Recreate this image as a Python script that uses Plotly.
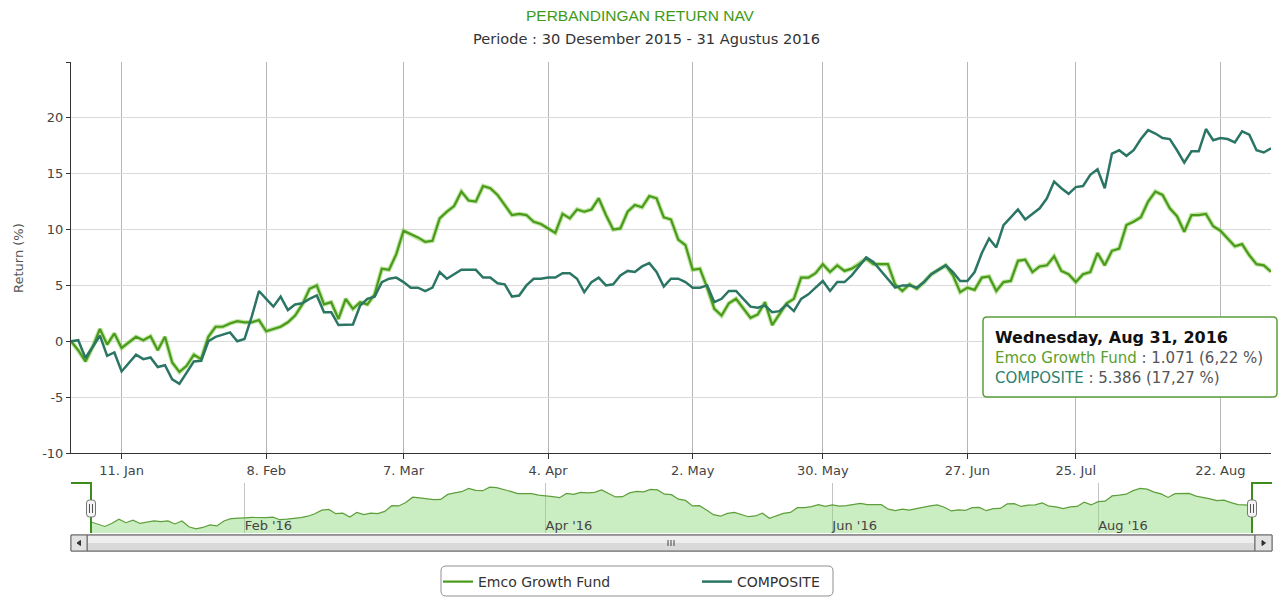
import pandas as pd
import plotly.graph_objects as go

# ---------------- data ----------------
TITLE = "PERBANDINGAN RETURN NAV"
SUBTITLE = "Periode : 30 Desember 2015 - 31 Agustus 2016"
Y_TITLE = "Return (%)"
SERIES_NAMES = ["Emco Growth Fund", "COMPOSITE"]

START, END = "2015-12-30", "2016-08-31"
HOLIDAYS = ["2016-01-01", "2016-02-08", "2016-05-05", "2016-05-06",
            "2016-07-04", "2016-07-05", "2016-07-06", "2016-07-07", "2016-07-08"]
DATES = [d for d in pd.bdate_range(START, END) if d.strftime("%Y-%m-%d") not in HOLIDAYS]

EMCO = [
    0.0, -0.8, -1.8, -0.5, 1.1, -0.3, 0.7, -0.6, -0.1, 0.4,
    0.1, 0.45, -0.8, 0.4, -1.9, -2.75, -2.2, -1.2, -1.6, 0.4,
    1.3, 1.3, 1.6, 1.8, 1.7, 1.7, 1.9, 0.9, 1.1, 1.3,
    1.7, 2.3, 3.3, 4.7, 5.0, 3.3, 3.5, 2.0, 3.8, 2.9,
    3.5, 3.3, 4.2, 6.5, 6.4, 7.8, 9.9, 9.6, 9.3, 8.9,
    9.0, 11.0, 11.6, 12.1, 13.4, 12.6, 12.5, 13.9, 13.7, 13.1,
    12.2, 11.3, 11.4, 11.3, 10.7, 10.5, 10.1, 9.7, 11.4, 11.0,
    11.8, 11.6, 11.8, 12.8, 11.3, 10.0, 10.1, 11.6, 12.2, 12.0,
    13.0, 12.8, 11.1, 10.9, 9.1, 8.6, 6.4, 6.5, 4.8, 2.9,
    2.3, 3.4, 3.8, 2.9, 2.1, 2.4, 3.5, 1.45, 2.4, 3.4,
    3.8, 5.7, 5.7, 6.1, 6.9, 6.2, 6.8, 6.3, 6.5, 6.9,
    7.4, 6.9, 6.9, 6.9, 5.1, 4.5, 5.1, 4.7, 5.3, 6.0,
    6.4, 6.8, 5.9, 4.4, 4.8, 4.6, 5.7, 5.8, 4.5, 5.3,
    5.4, 7.2, 7.3, 6.2, 6.7, 6.8, 7.6, 6.3, 6.0, 5.3,
    6.0, 6.2, 7.9, 6.8, 8.1, 8.3, 10.4, 10.7, 11.1, 12.5,
    13.4, 13.1, 11.9, 11.2, 9.8, 11.3, 11.3, 11.4, 10.3, 9.9,
    9.2, 8.5, 8.7, 7.7, 6.9, 6.8, 6.22,
]
COMPOSITE = [
    0.0, 0.1, -1.5, -0.5, 0.5, -1.3, -1.0, -2.7, -1.9, -1.2,
    -1.6, -1.45, -2.3, -2.15, -3.4, -3.8, -2.8, -1.8, -1.75, 0.0,
    0.4, 0.6, 0.8, 0.0, 0.2, 2.2, 4.5, 3.8, 3.1, 4.0,
    2.8, 3.3, 3.4, 3.8, 4.1, 2.6, 2.6, 1.45, 1.45, 1.5,
    3.2, 3.8, 4.0, 5.3, 5.6, 5.7, 5.3, 4.8, 4.8, 4.5,
    4.8, 6.2, 5.6, 6.0, 6.4, 6.4, 6.4, 5.7, 5.7, 5.2,
    5.1, 4.0, 4.1, 5.0, 5.6, 5.6, 5.7, 5.7, 6.1, 6.1,
    5.6, 4.4, 5.3, 5.7, 5.0, 5.1, 5.9, 6.3, 6.2, 6.7,
    7.0, 6.2, 4.9, 5.6, 5.6, 5.3, 4.8, 4.8, 5.0, 3.5,
    3.8, 4.5, 4.5, 3.8, 3.1, 3.0, 3.2, 2.6, 2.7, 3.3,
    2.7, 3.8, 4.2, 4.8, 5.4, 4.5, 5.3, 5.3, 5.9, 6.7,
    7.5, 7.1, 6.3, 5.6, 4.8, 5.0, 5.0, 4.8, 5.3, 6.0,
    6.4, 6.8, 6.2, 5.4, 5.4, 6.2, 7.9, 9.2, 8.4, 10.4,
    11.1, 11.8, 10.9, 11.4, 11.9, 12.8, 14.3, 13.7, 13.2, 13.8,
    13.9, 14.9, 15.4, 13.7, 16.8, 17.1, 16.6, 17.1, 18.1, 18.9,
    18.6, 18.2, 18.1, 17.1, 16.0, 17.0, 17.0, 19.0, 18.0, 18.2,
    18.1, 17.8, 18.8, 18.5, 17.1, 16.9, 17.27,
]

MAIN_TICK_DATES = ["2016-01-11", "2016-02-09", "2016-03-07", "2016-04-04", "2016-05-02",
                   "2016-05-30", "2016-06-27", "2016-07-25", "2016-08-22"]
MAIN_TICK_TEXT = ["11. Jan", "8. Feb", "7. Mar", "4. Apr", "2. May",
                  "30. May", "27. Jun", "25. Jul", "22. Aug"]
NAV_TICK_DATES = ["2016-02-01", "2016-04-01", "2016-06-01", "2016-08-01"]
NAV_TICK_TEXT = ["Feb '16", "Apr '16", "Jun '16", "Aug '16"]
Y_TICKS = [-10, -5, 0, 5, 10, 15, 20, 25]
Y_TICK_TEXT = ["-10", "-5", "0", "5", "10", "15", "20", ""]
Y_RANGE = [-10, 25]

TOOLTIP_DATE = "Wednesday, Aug 31, 2016"
TOOLTIP_EMCO = " : 1.071 (6,22 %)"
TOOLTIP_COMP = " : 5.386 (17,27 %)"

# ---------------- style ----------------
W, H = 1278, 597
ML, MR, MT, MB = 71, 7, 62, 64
PW, PH = W - ML - MR, H - MT - MB
GREEN = "#4a9a1c"
TEAL = "#2b7565"
FONT = "DejaVu Sans"


def X(p):
    return (p - ML) / PW


def Y(p):
    return (H - MB - p) / PH


def rounded(x0, y0, x1, y1, r):
    return (f"M{X(x0+r)},{Y(y0)} L{X(x1-r)},{Y(y0)} Q{X(x1)},{Y(y0)} {X(x1)},{Y(y0+r)} "
            f"L{X(x1)},{Y(y1-r)} Q{X(x1)},{Y(y1)} {X(x1-r)},{Y(y1)} "
            f"L{X(x0+r)},{Y(y1)} Q{X(x0)},{Y(y1)} {X(x0)},{Y(y1-r)} "
            f"L{X(x0)},{Y(y0+r)} Q{X(x0)},{Y(y0)} {X(x0+r)},{Y(y0)} Z")


breaks = [dict(bounds=["sat", "mon"]), dict(values=HOLIDAYS)]

fig = go.Figure()
# soft halo under the (hovered) Emco line
fig.add_trace(go.Scatter(x=DATES, y=EMCO, mode="lines", showlegend=False, hoverinfo="skip",
                         line=dict(color="rgba(140,210,90,0.55)", width=4.5),
                         xaxis="x", yaxis="y"))
fig.add_trace(go.Scatter(x=DATES, y=EMCO, name=SERIES_NAMES[0], mode="lines",
                         line=dict(color=GREEN, width=2.2), xaxis="x", yaxis="y"))
fig.add_trace(go.Scatter(x=DATES, y=COMPOSITE, name=SERIES_NAMES[1], mode="lines",
                         line=dict(color=TEAL, width=2.5), xaxis="x", yaxis="y"))

# navigator (Highstock style) showing first series
span = max(EMCO) - min(EMCO)
nav_lo, nav_hi = min(EMCO) - 0.1 * span, max(EMCO) + 0.1 * span
fig.add_trace(go.Scatter(x=DATES, y=[nav_lo] * len(DATES), mode="lines",
                         line=dict(width=0, color="rgba(0,0,0,0)"), showlegend=False,
                         hoverinfo="skip", xaxis="x2", yaxis="y2"))
fig.add_trace(go.Scatter(x=DATES, y=EMCO, mode="lines", fill="tonexty",
                         fillcolor="rgba(140,215,120,0.45)",
                         line=dict(color="#5d9f3a", width=1.2), showlegend=False,
                         hoverinfo="skip", xaxis="x2", yaxis="y2"))

main_bottom = Y(453)
nav_top = Y(483)

fig.update_layout(
    width=W, height=H,
    margin=dict(l=ML, r=MR, t=MT, b=MB, autoexpand=False),
    paper_bgcolor="white", plot_bgcolor="white",
    font=dict(family=FONT, size=13, color="#444"),
    showlegend=True,
    legend=dict(orientation="h", x=X(438), xanchor="left", y=Y(582), yanchor="middle",
                traceorder="normal",
                bgcolor="rgba(0,0,0,0)", borderwidth=0,
                font=dict(family=FONT, size=14, color="#333"),
                entrywidth=214, entrywidthmode="pixels", itemwidth=30),
    xaxis=dict(domain=[0, 1], anchor="y", type="date", range=[START, END],
               rangebreaks=breaks, tickmode="array", tickvals=MAIN_TICK_DATES,
               ticktext=MAIN_TICK_TEXT, showgrid=True, gridcolor="#b5b5b5", gridwidth=1,
               showline=True, linecolor="#333", linewidth=1, ticks="outside",
               ticklen=5, tickcolor="#333", tickfont=dict(size=13, color="#444"),
               zeroline=False, fixedrange=True),
    yaxis=dict(domain=[main_bottom, 1], anchor="x", range=Y_RANGE, tickmode="array",
               tickvals=Y_TICKS, ticktext=Y_TICK_TEXT, showgrid=True, gridcolor="#dadada",
               showline=True, linecolor="#333", linewidth=1, ticks="outside", ticklen=4,
               tickcolor="#333", tickfont=dict(size=13, color="#444"), zeroline=False,
               fixedrange=True),
    xaxis2=dict(domain=[X(91), X(1252)], anchor="y2", type="date", range=[START, END],
                rangebreaks=breaks, tickmode="array", tickvals=NAV_TICK_DATES,
                ticktext=NAV_TICK_TEXT, ticklabelposition="inside right",
                ticklabelstandoff=-6,
                showgrid=True, gridcolor="#c4c4c4", showline=False, ticks="",
                tickfont=dict(size=13, color="#444"), zeroline=False, fixedrange=True),
    yaxis2=dict(domain=[0, nav_top], anchor="x2", range=[nav_lo, nav_hi], visible=False,
                fixedrange=True),
)

shapes = []
# navigator outline and handles
OUT = "#3d8c1c"
shapes.append(dict(type="path", xref="paper", yref="paper",
                   path=f"M{X(71)},{Y(483)} L{X(91)},{Y(483)} L{X(91)},{Y(533)}",
                   line=dict(color=OUT, width=2)))
shapes.append(dict(type="path", xref="paper", yref="paper",
                   path=f"M{X(1252)},{Y(533)} L{X(1252)},{Y(483)} L{X(1272)},{Y(483)}",
                   line=dict(color=OUT, width=2)))
for cx in (91, 1252):
    shapes.append(dict(type="path", xref="paper", yref="paper",
                       path=rounded(cx - 4.5, 500, cx + 4.5, 517, 3),
                       fillcolor="#f4f4f4", line=dict(color="#777", width=1)))
    for dx in (-1.5, 1.5):
        shapes.append(dict(type="line", xref="paper", yref="paper",
                           x0=X(cx + dx), x1=X(cx + dx), y0=Y(504), y1=Y(513),
                           line=dict(color="#555", width=1)))
# scrollbar
shapes.append(dict(type="rect", xref="paper", yref="paper", x0=X(71), x1=X(1272),
                   y0=Y(551), y1=Y(535), fillcolor="#e8e8e8", line=dict(color="#777", width=1)))
shapes.append(dict(type="rect", xref="paper", yref="paper", x0=X(87), x1=X(1255),
                   y0=Y(551), y1=Y(535), fillcolor="#d9d9d9", line=dict(color="#666", width=1)))
shapes.append(dict(type="rect", xref="paper", yref="paper", x0=X(88), x1=X(1254),
                   y0=Y(543), y1=Y(536), fillcolor="#eeeeee", line=dict(width=0)))
for bx0, bx1 in ((71, 87), (1255, 1272)):
    shapes.append(dict(type="rect", xref="paper", yref="paper", x0=X(bx0), x1=X(bx1),
                       y0=Y(551), y1=Y(535), fillcolor="#e2e2e2",
                       line=dict(color="#666", width=1)))
shapes.append(dict(type="path", xref="paper", yref="paper",
                   path=f"M{X(80.5)},{Y(540.5)} L{X(77)},{Y(543)} L{X(80.5)},{Y(545.5)} Z",
                   fillcolor="#333", line=dict(color="#333", width=1)))
shapes.append(dict(type="path", xref="paper", yref="paper",
                   path=f"M{X(1262)},{Y(540.5)} L{X(1265.5)},{Y(543)} L{X(1262)},{Y(545.5)} Z",
                   fillcolor="#333", line=dict(color="#333", width=1)))
for gx in (668, 671, 674):
    shapes.append(dict(type="line", xref="paper", yref="paper", x0=X(gx), x1=X(gx),
                       y0=Y(540), y1=Y(546), line=dict(color="#444", width=1)))
# legend box
shapes.append(dict(type="path", xref="paper", yref="paper",
                   path=rounded(441, 566, 833, 596, 5),
                   line=dict(color="#909090", width=1)))
# tooltip box
shapes.append(dict(type="path", xref="paper", yref="paper", layer="above",
                   path=rounded(983, 317, 1277, 397, 4),
                   fillcolor="rgba(255,255,255,0.95)", line=dict(color="#5a9e3a", width=1.5)))
fig.update_layout(shapes=shapes)

ann = [
    dict(text=TITLE, x=X(640), y=Y(15), xref="paper", yref="paper", showarrow=False,
         xanchor="center", yanchor="middle",
         font=dict(family="Liberation Sans", size=15.5, color="#3e9a18")),
    dict(text=SUBTITLE, x=X(646), y=Y(38), xref="paper", yref="paper", showarrow=False,
         xanchor="center", yanchor="middle", font=dict(family=FONT, size=14.6, color="#333")),
    dict(text=Y_TITLE, x=X(18), y=Y(258), xref="paper", yref="paper", showarrow=False,
         textangle=-90, xanchor="center", yanchor="middle",
         font=dict(family=FONT, size=13, color="#555")),
    dict(text=f"<b>{TOOLTIP_DATE}</b>", x=X(993), y=Y(337), xref="paper", yref="paper",
         showarrow=False, xanchor="left", yanchor="middle",
         font=dict(family=FONT, size=16, color="#111")),
    dict(text=f"<span style='color:#5aa02c'>{SERIES_NAMES[0]}</span>{TOOLTIP_EMCO}",
         x=X(993), y=Y(358), xref="paper", yref="paper", showarrow=False, xanchor="left",
         yanchor="middle", font=dict(family=FONT, size=15, color="#555")),
    dict(text=f"<span style='color:#2f7f70'>{SERIES_NAMES[1]}</span>{TOOLTIP_COMP}",
         x=X(993), y=Y(378), xref="paper", yref="paper", showarrow=False, xanchor="left",
         yanchor="middle", font=dict(family=FONT, size=15, color="#555")),
]
fig.update_layout(annotations=ann)

fig.write_html("out.html", config={"displayModeBar": False},
               post_script="document.body.style.margin='0px';document.body.style.overflow='hidden';")
